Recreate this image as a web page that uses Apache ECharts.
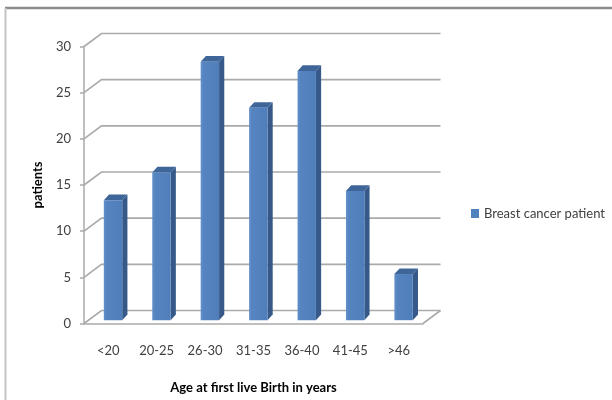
<!DOCTYPE html>
<html>
<head>
<meta charset="utf-8">
<script src="https://cdn.jsdelivr.net/npm/echarts@6/dist/echarts.min.js"></script>
<style>
  html, body { margin: 0; padding: 0; background: #fff; }
  #chart { width: 612px; height: 400px; }
</style>
</head>
<body>
<div id="chart"></div>
<script>
// Age groups at first live birth and number of patients in each
const categories = ['<20', '20-25', '26-30', '31-35', '36-40', '41-45', '>46'];
const patients = [13, 16, 28, 23, 27, 14, 5];
const yTicks = [0, 5, 10, 15, 20, 25, 30];

// Depth of the 3D box (back wall offset) and of each column
const WALL_DX = 17.5, WALL_DY = -13;
const BAR_SHIFT_X = 4.8, BAR_SHIFT_Y = -3.3;
const BAR_DX = 5.2, BAR_DY = -5.6;

const GRID_COLOR = '#aaaaaa';
const FRONT = '#5584c0';
const SIDE = '#36598a';
const TOP = '#3f6699';

const chart = echarts.init(document.getElementById('chart'), null, { renderer: 'canvas' });

chart.setOption({
  animation: false,
  backgroundColor: '#ffffff',
  textStyle: { fontFamily: 'Lato' },
  graphic: [
    // outer frame: heavy top rule and light left rule
    { type: 'line', shape: { x1: 5, y1: 8, x2: 612, y2: 8 }, style: { stroke: '#8c8c8c', lineWidth: 2.5 }, z: 0 },
    { type: 'line', shape: { x1: 5.5, y1: 8, x2: 5.5, y2: 400 }, style: { stroke: '#c4c4c4', lineWidth: 2 }, z: 0 }
  ],
  grid: { left: 84, right: 189, top: 46.5, bottom: 76.5 },
  legend: {
    left: 466,
    top: 202,
    icon: 'rect',
    itemWidth: 8,
    itemHeight: 9,
    itemGap: 4,
    textStyle: { fontFamily: 'Lato', fontSize: 13, color: '#404040' },
    data: ['Breast cancer patient']
  },
  xAxis: {
    type: 'category',
    data: categories,
    name: 'Age at first live Birth in years',
    nameLocation: 'middle',
    nameGap: 58,
    nameTextStyle: { fontFamily: 'Lato', fontWeight: 'bold', fontSize: 13, color: '#000' },
    axisLine: { show: true, lineStyle: { color: GRID_COLOR, width: 1.5 } },
    axisTick: { show: false },
    axisLabel: { margin: 21, fontFamily: 'Lato', fontSize: 13, color: '#404040' },
    splitLine: { show: false }
  },
  yAxis: {
    type: 'value',
    min: 0,
    max: 30,
    interval: 5,
    name: 'patients',
    nameLocation: 'middle',
    nameGap: 40,
    nameRotate: 90,
    nameTextStyle: { fontFamily: 'Lato', fontWeight: 'bold', fontSize: 13, color: '#000' },
    axisLine: { show: true, lineStyle: { color: GRID_COLOR, width: 1.5 } },
    axisTick: { show: true, length: 4, lineStyle: { color: GRID_COLOR, width: 1.5 } },
    axisLabel: { margin: 13, fontFamily: 'Lato', fontSize: 13, color: '#404040' },
    splitLine: { show: false }
  },
  series: [
    {
      // back wall gridlines with their diagonal connectors, and the floor edge
      type: 'custom',
      name: 'wall',
      silent: true,
      clip: false,
      z: 1,
      data: yTicks.map(v => [0, v]),
      encode: { x: 0, y: 1 },
      renderItem: function (params, api) {
        const cs = params.coordSys;
        const y = api.coord([0, api.value(1)])[1];
        const x0 = cs.x, x1 = cs.x + cs.width;
        const children = [{
          type: 'polyline',
          shape: { points: [[x0, y], [x0 + WALL_DX, y + WALL_DY], [x1 + WALL_DX, y + WALL_DY]] },
          style: { stroke: GRID_COLOR, lineWidth: 1.6, fill: null }
        }];
        if (api.value(1) === 0) {
          children.push({
            type: 'line',
            shape: { x1: x1, y1: y, x2: x1 + WALL_DX, y2: y + WALL_DY },
            style: { stroke: GRID_COLOR, lineWidth: 1.6 }
          });
        }
        return { type: 'group', children: children };
      }
    },
    {
      // 3D columns: front face, right side and top cap
      type: 'custom',
      name: 'Breast cancer patient',
      clip: false,
      z: 3,
      itemStyle: { color: '#4f81bd' },
      data: patients.map((v, i) => [i, v]),
      encode: { x: 0, y: 1 },
      renderItem: function (params, api) {
        const i = api.value(0);
        const base = api.coord([i, 0]);
        const top = api.coord([i, api.value(1)]);
        const w = api.size([1, 0])[0] * 0.38;
        const x0 = base[0] - w / 2 + BAR_SHIFT_X;
        const yb = base[1] + BAR_SHIFT_Y;
        const yt = top[1] + BAR_SHIFT_Y;
        return {
          type: 'group',
          children: [
            {
              type: 'polygon',
              shape: { points: [[x0 + w, yt], [x0 + w + BAR_DX, yt + BAR_DY], [x0 + w + BAR_DX, yb + BAR_DY], [x0 + w, yb]] },
              style: { fill: SIDE }
            },
            {
              type: 'polygon',
              shape: { points: [[x0, yt], [x0 + BAR_DX, yt + BAR_DY], [x0 + w + BAR_DX, yt + BAR_DY], [x0 + w, yt]] },
              style: { fill: TOP }
            },
            {
              type: 'rect',
              shape: { x: x0, y: yt, width: w, height: yb - yt },
              style: {
                fill: new echarts.graphic.LinearGradient(0, 0, 1, 0, [
                  { offset: 0, color: '#6592cb' },
                  { offset: 0.15, color: FRONT },
                  { offset: 1, color: '#4f7eba' }
                ])
              }
            }
          ]
        };
      }
    }
  ]
});
</script>
</body>
</html>
